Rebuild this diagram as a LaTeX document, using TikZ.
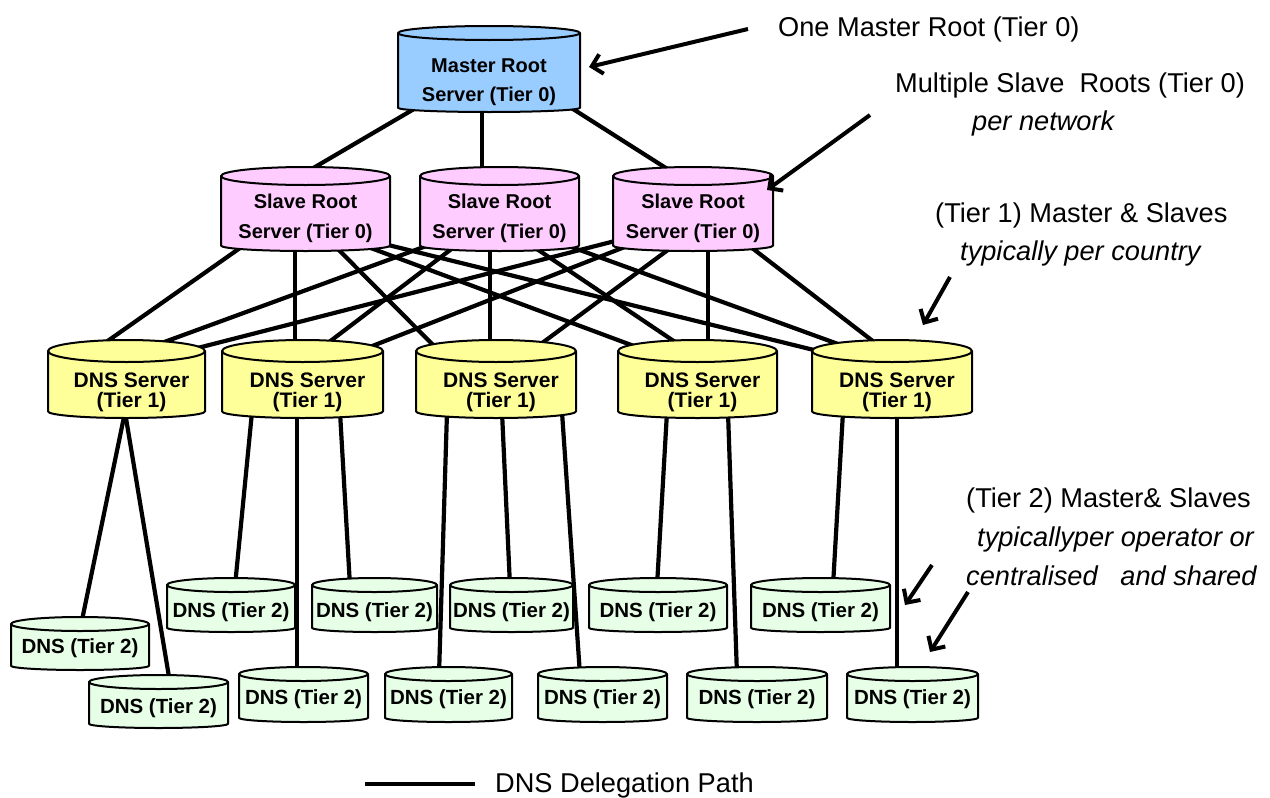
\documentclass[tikz,border=0pt]{standalone}
\usepackage{fontspec}
\setmainfont{Liberation Sans}
\usetikzlibrary{arrows.meta,backgrounds}

\definecolor{masterblue}{HTML}{99CCFF}
\definecolor{slavepink}{HTML}{FFCCFF}
\definecolor{tieroneyellow}{HTML}{FFFF99}
\definecolor{tiertwogreen}{HTML}{E6FFE6}

\tikzset{
  dbbox/.style={rectangle, draw=none, inner sep=0pt, outer sep=0pt},
  dbline/.style={draw=black, line width=2pt, line join=round},
  master fill/.style={fill=masterblue},
  slave fill/.style={fill=slavepink},
  tierone fill/.style={fill=tieroneyellow},
  tiertwo fill/.style={fill=tiertwogreen},
  master text/.style={inner sep=0pt, align=center, font=\bfseries\fontsize{20}{29}\selectfont},
  slave text/.style={inner sep=0pt, align=center, font=\bfseries\fontsize{20}{30}\selectfont},
  tierone text/.style={xshift=5pt, inner sep=0pt, align=center, font=\bfseries\fontsize{21}{19.5}\selectfont},
  tiertwo text/.style={inner sep=0pt, align=center, font=\bfseries\fontsize{20.5}{22}\selectfont},
  link/.style={draw=black, line width=4.2pt},
  pointer/.style={draw=black, line width=4pt, -{Straight Barb[length=10pt, width=20pt]}},
  note/.style={anchor=base west, inner sep=0pt, font=\fontsize{27.2}{30}\selectfont},
  note it/.style={note, font=\itshape\fontsize{27.2}{30}\selectfont},
}

% database cylinder: name, cx, cy, width, height, tier, cap radius, label drop, label
\newcommand\dbnode[9]{%
  \node[dbbox, minimum width=#4pt, minimum height=#5pt] (#1) at (#2,#3) {};
  \filldraw[dbline, #6 fill]
    ([yshift=-#7pt]#1.north west) -- ([yshift=0.6*#7pt]#1.south west)
    arc[start angle=180, end angle=360, x radius=0.5*#4pt, y radius=0.6*#7pt]
    -- ([yshift=-#7pt]#1.north east)
    arc[start angle=0, end angle=180, x radius=0.5*#4pt, y radius=#7pt]
    -- cycle;
  \draw[dbline] ([yshift=-#7pt]#1.north west)
    arc[start angle=180, end angle=360, x radius=0.5*#4pt, y radius=#7pt];
  \node[#6 text] (#1-label) at ([yshift=-#8pt]#1.center) {#9};
}

\begin{document}
\begin{tikzpicture}[x=1pt, y=-1pt]
\useasboundingbox (0,0) rectangle (1270,798);

% Tier 0: master and slave roots
\dbnode{m}{489}{69}{182}{86}{master}{7}{13.5}{Master Root\\Server (Tier 0)}
\dbnode{s1}{305.5}{209}{169}{84}{slave}{9}{9}{Slave Root\\Server (Tier 0)}
\dbnode{s2}{499.5}{209}{159}{84}{slave}{9}{9}{Slave Root\\Server (Tier 0)}
\dbnode{s3}{693}{209}{160}{84}{slave}{9}{9}{Slave Root\\Server (Tier 0)}

% Tier 1 servers
\dbnode{d1}{126.5}{379}{157}{78}{tierone}{11}{13.5}{DNS Server\\(Tier 1)}
\dbnode{d2}{302.5}{379}{161}{78}{tierone}{11}{13.5}{DNS Server\\(Tier 1)}
\dbnode{d3}{496}{379}{160}{78}{tierone}{11}{13.5}{DNS Server\\(Tier 1)}
\dbnode{d4}{697.5}{379}{159}{78}{tierone}{11}{13.5}{DNS Server\\(Tier 1)}
\dbnode{d5}{892}{379}{160}{78}{tierone}{11}{13.5}{DNS Server\\(Tier 1)}

% Tier 2 servers
\dbnode{l1}{80}{643.5}{138}{53}{tiertwo}{7}{5}{DNS (Tier 2)}
\dbnode{l2}{158.5}{701.5}{139}{53}{tiertwo}{7}{6.5}{DNS (Tier 2)}
\dbnode{ua}{231}{605}{128}{54}{tiertwo}{7}{7}{DNS (Tier 2)}
\dbnode{ub}{374.5}{605}{125}{54}{tiertwo}{7}{7}{DNS (Tier 2)}
\dbnode{uc}{511.5}{605}{123}{54}{tiertwo}{7}{7}{DNS (Tier 2)}
\dbnode{ud}{658}{605}{138}{54}{tiertwo}{7}{7}{DNS (Tier 2)}
\dbnode{ue}{820.5}{605}{139}{54}{tiertwo}{7}{7}{DNS (Tier 2)}
\dbnode{va}{303.5}{694.5}{129}{55}{tiertwo}{7}{4.5}{DNS (Tier 2)}
\dbnode{vb}{448.5}{694.5}{127}{55}{tiertwo}{7}{4.5}{DNS (Tier 2)}
\dbnode{vc}{602.5}{694.5}{129}{55}{tiertwo}{7}{4.5}{DNS (Tier 2)}
\dbnode{vd}{757}{694.5}{140}{55}{tiertwo}{7}{4.5}{DNS (Tier 2)}
\dbnode{ve}{912.5}{694.5}{131}{55}{tiertwo}{7}{4.5}{DNS (Tier 2)}

% delegation paths, kept behind the cylinders
\begin{pgfonlayer}{background}
  % master to slave roots
  \draw[link] ([xshift=-63pt, yshift=10pt]m.south) -- ([xshift=-7.5pt, yshift=-10pt]s1.north);
  \draw[link] ([xshift=-7pt, yshift=10pt]m.south) -- ([xshift=-17.5pt, yshift=-10pt]s2.north);
  \draw[link] ([xshift=73pt, yshift=10pt]m.south) -- ([xshift=-13pt, yshift=-10pt]s3.north);
  % slave roots to tier 1
  \foreach \srcn/\srcx/\dstn/\dstx in {
      s1/-55.5/d1/-34.5, s1/-10.5/d2/-7.5, s1/24.5/d3/-56, s1/46.5/d4/-47.5, s1/66.5/d5/-70,
      s2/-59.5/d1/10.5, s2/-37.5/d2/13.5, s2/-9.5/d3/-6, s2/25.5/d4/-7.5, s2/55.5/d5/-32,
      s3/-78/d1/55.5, s3/-53/d2/54.5, s3/-13/d3/34, s3/15/d4/10.5, s3/50/d5/-5}
    \draw[link] ([xshift=\srcx, yshift=10]\srcn.south) -- ([xshift=\dstx, yshift=-12]\dstn.north);
  % tier 1 to tier 2
  \foreach \srcn/\srcx/\dstn/\dstx in {
      d1/-1.5/l1/1, d1/-1.5/l2/11.5,
      d2/-50.5/ua/4, d2/-5.5/va/-6.5, d2/37.5/ub/-24.5,
      d3/-49/vb/-9.5, d3/6/uc/-1.5, d3/66/vc/-22.5,
      d4/-30.5/ud/-1, d4/30.5/vd/-20,
      d5/-49/ue/12.5, d5/5/ve/-15.5}
    \draw[link] ([xshift=\srcx, yshift=6]\srcn.south) -- ([xshift=\dstx, yshift=-8]\dstn.north);
\end{pgfonlayer}

% annotations
\node[note] (t0) at (778,36.5) {One Master Root (Tier 0)};
\node[note] (t1) at (895,92.5) {Multiple Slave\ \ Roots (Tier 0)};
\node[note it] (t1b) at (972,130.5) {per network};
\node[note] (t2) at (935,222.5) {(Tier 1) Master \& Slaves};
\node[note it] (t2b) at (960,260) {typically per country};
\node[note] (t3) at (966,507.5) {(Tier 2) Master\& Slaves};
\node[note it] (t3b) at (977,546.5) {typicallyper operator or};
\node[note it] (t3c) at (966,585) {centralised\ \ \ and shared};

% pointers from the annotations
\coordinate (p0) at (748,29);
\coordinate (p1) at (870,115);
\coordinate (p2) at (950,277);
\coordinate (p2t) at (923,325);
\coordinate (p3) at (932,565);
\coordinate (p4) at (968,592);
\draw[pointer] (p0) -- ([xshift=9pt, yshift=2pt]m.east);
\draw[pointer] (p1) -- ([xshift=-6pt, yshift=-23pt]s3.north east);
\draw[pointer] (p2) -- (p2t);
\draw[pointer] (p3) -- ([xshift=15pt]ue.east);
\draw[pointer] (p4) -- ([xshift=17.5pt, yshift=15pt]ve.north);

% legend
\coordinate (lg-a) at (365,784);
\coordinate (lg-b) at (475,784);
\draw[link] (lg-a) -- (lg-b);
\node[note] (lg-text) at (495,792) {DNS Delegation Path};
\end{tikzpicture}
\end{document}
